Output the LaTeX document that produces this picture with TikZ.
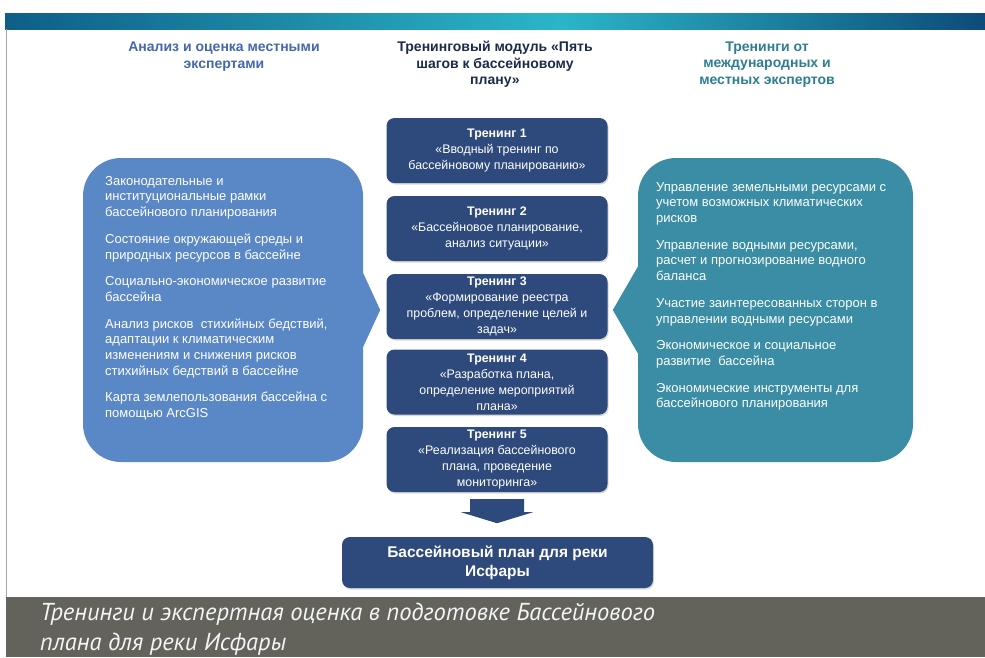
\documentclass[tikz,border=0pt]{standalone}
\usepackage{fontspec}
\setmainfont{Liberation Sans}
\newfontfamily\captionfont{PT Sans}
\usetikzlibrary{calc,shadows}

\definecolor{navybox}{HTML}{2E4A7C}
\definecolor{leftblue}{HTML}{5A88C7}
\definecolor{rightteal}{HTML}{3A8DA4}
\definecolor{headblue}{HTML}{4467AD}
\definecolor{headnavy}{HTML}{1C2B4C}
\definecolor{headteal}{HTML}{2E7E92}
\definecolor{captiongray}{HTML}{63635C}
\definecolor{barleft}{HTML}{0F5E87}
\definecolor{barmid}{HTML}{2BB5C8}
\definecolor{barright}{HTML}{0D4C78}

\begin{document}
\begin{tikzpicture}
% one unit is one pixel of the page, y runs downwards
[x=1pt,y=-1pt,
 header/.style={align=center,font=\bfseries\fontsize{14}{16.5}\selectfont},
 stage/.style={fill=navybox,rounded corners=8pt,text=white,align=center,inner sep=2pt,
   minimum width=221pt,minimum height=65pt,font=\fontsize{12.4}{16}\selectfont,
   drop shadow={shadow xshift=1pt,shadow yshift=-1.5pt,opacity=0.3}},
 bigbox/.style={rounded corners=38pt,inner sep=0pt,minimum height=304pt},
 itemlist/.style={align=left,text=white,inner sep=0pt,anchor=north west,
   font=\fontsize{13}{15.7}\selectfont}]
\clip (0,0) rectangle (985,657);
\fill[white] (0,0) rectangle (985,657);
% top bar and frame
\shade[left color=barleft,right color=barmid] (5,13) rectangle (560,29);
\shade[left color=barmid,right color=barright] (560,13) rectangle (985,29);
\draw[gray!70,line width=1.2pt] (6.5,29) -- (6.5,597);
%Column headers:
\node[header,text=headblue] (headleft) at (224,56.5) {Анализ и оценка местными\\экспертами};
\node[header,text=headnavy] (headmid) at (495,64.5) {Тренинговый модуль «Пять\\шагов к бассейновому\\плану»};
\node[header,text=headteal] (headright) at (767,64.5) {Тренинги от\\международных и\\местных экспертов};
%The five trainings:
\foreach \i/\y/\txt in {1/150.5/{«Вводный тренинг по\\бассейновому планированию»},
  2/228.5/{«Бассейновое планирование,\\анализ ситуации»},
  3/306.5/{«Формирование реестра\\проблем, определение целей и\\задач»},
  4/382/{«Разработка плана,\\определение мероприятий\\плана»},
  5/459.5/{«Реализация бассейнового\\плана, проведение\\мониторинга»}}{
\node[stage] (t\i) at (497,\y) {{\bfseries Тренинг \i}\\\txt};}
\fill[navybox] ($(t5.south)+(-27,7)$) -- ++(54,0) -- ++(0,13) -- ++(9,0)
  -- ($(t5.south)+(0,31)$) -- ($(t5.south)+(-36,20)$) -- ++(9,0) -- cycle;
\node[stage,minimum width=311pt,minimum height=51pt,font=\bfseries\fontsize{15.5}{19}\selectfont]
  (plan) at (497.5,562.5) {Бассейновый план для реки\\Исфары};
%Local experts:
\node[bigbox,fill=leftblue,minimum width=280pt] (local) at (223,310) {};
\fill[leftblue] ($(local.east)+(-1,-39)$) -- ($(local.east)+(17,0)$) -- ($(local.east)+(-1,39)$) -- cycle;
\node[itemlist] (localtext) at (105,176) {Законодательные и\\институциональные рамки\\бассейнового планирования\\[11pt]
Состояние окружающей среды и\\природных ресурсов в бассейне\\[11pt]
Социально-экономическое развитие\\бассейна\\[11pt]
Анализ рисков\ \ стихийных бедствий,\\адаптации к климатическим\\изменениям и снижения рисков\\стихийных бедствий в бассейне\\[11pt]
Карта землепользования бассейна с\\помощью ArcGIS};
%International experts:
\node[bigbox,fill=rightteal,minimum width=275pt] (intl) at (775.5,310) {};
\fill[rightteal] ($(intl.west)+(1,-45)$) -- ($(intl.west)+(-25,0)$) -- ($(intl.west)+(1,45)$) -- cycle;
\node[itemlist] (intltext) at (656,182) {Управление земельными ресурсами с\\учетом возможных климатических\\рисков\\[11pt]
Управление водными ресурсами,\\расчет и прогнозирование водного\\баланса\\[11pt]
Участие заинтересованных сторон в\\управлении водными ресурсами\\[11pt]
Экономическое и социальное\\развитие\ \ бассейна\\[11pt]
Экономические инструменты для\\бассейнового планирования};
%Caption:
\fill[captiongray] (5.8,597) rectangle (985,657);
\node[anchor=west,align=left,text=white!92!gray,inner sep=0pt,
  font=\captionfont\itshape\fontsize{24.5}{30}\selectfont] (caption) at (40,629)
  {Тренинги и экспертная оценка в подготовке Бассейнового\\плана для реки Исфары};
\end{tikzpicture}
\end{document}
